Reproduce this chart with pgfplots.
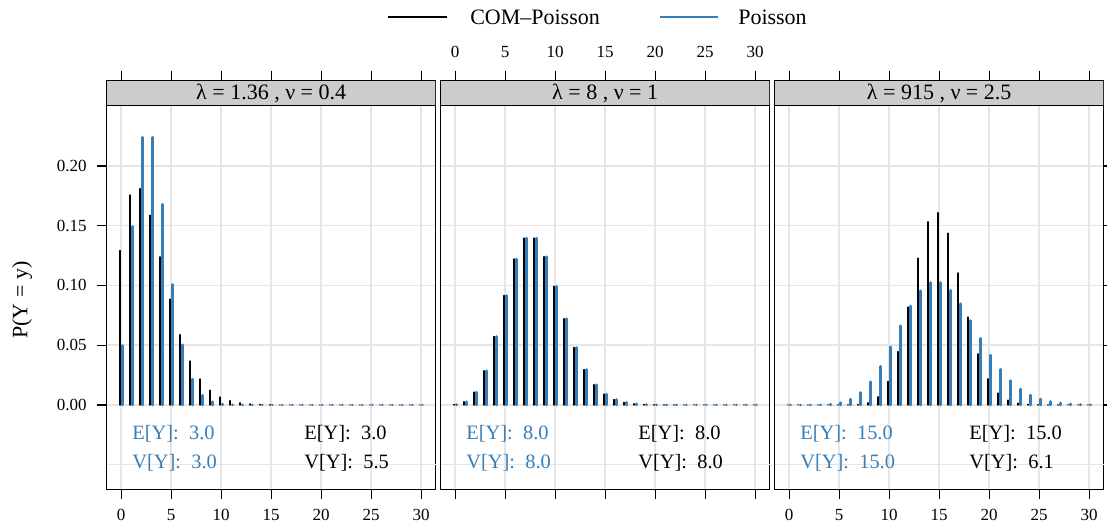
\documentclass[border=0pt]{standalone}
\usepackage{fontspec}
\setmainfont{Liberation Serif}
\usepackage{pgfplots}
\usepackage{pgfplotstable}
\pgfplotsset{compat=1.18}
\definecolor{pblue}{HTML}{377EB8}
\definecolor{gridc}{HTML}{E6E6E6}
\definecolor{stripc}{HTML}{CCCCCC}

\newcommand{\tickfont}{\fontsize{12.75}{14}\selectfont}
\newcommand{\bigfont}{\fontsize{16.5}{19}\selectfont}
\newcommand{\annfont}{\fontsize{15.3}{18}\selectfont}

% COM-Poisson (lambda=1.36, nu=0.4) and Poisson (mean 3)
\pgfplotstableread{
y com pois
0 0.1292 0.0498
1 0.1757 0.1494
2 0.1810 0.2240
3 0.1587 0.2240
4 0.1239 0.1680
5 0.0885 0.1008
6 0.0588 0.0504
7 0.0367 0.0216
8 0.0217 0.0081
9 0.0123 0.0027
10 0.0066 0.0008
11 0.0035 0.0002
12 0.0017 0.0001
13 0.0008 0
14 0.0004 0
15 0.0002 0
16 0 0
17 0 0
18 0 0
19 0 0
20 0 0
21 0 0
22 0 0
23 0 0
24 0 0
25 0 0
26 0 0
27 0 0
28 0 0
29 0 0
30 0 0
}\panelA

% COM-Poisson (lambda=8, nu=1) and Poisson (mean 8)
\pgfplotstableread{
y com pois
0 0.00034 0.00034
1 0.00268 0.00268
2 0.01073 0.01073
3 0.02863 0.02863
4 0.05725 0.05725
5 0.09160 0.09160
6 0.12214 0.12214
7 0.13959 0.13959
8 0.13959 0.13959
9 0.12408 0.12408
10 0.09926 0.09926
11 0.07219 0.07219
12 0.04813 0.04813
13 0.02962 0.02962
14 0.01692 0.01692
15 0.00903 0.00903
16 0.00451 0.00451
17 0.00212 0.00212
18 0.00094 0.00094
19 0.00040 0.00040
20 0.00016 0.00016
21 0.00006 0.00006
22 0.00002 0.00002
23 0 0
24 0 0
25 0 0
26 0 0
27 0 0
28 0 0
29 0 0
30 0 0
}\panelB

% COM-Poisson (lambda=915, nu=2.5) and Poisson (mean 15)
\pgfplotstableread{
y com pois
0 0 0.0000003
1 0 0.0000046
2 0 0.0000344
3 0 0.00017
4 0 0.00065
5 0.000005 0.00194
6 0.00005 0.00484
7 0.00036 0.01037
8 0.00179 0.01944
9 0.00676 0.03241
10 0.0196 0.04861
11 0.0446 0.06629
12 0.0818 0.08286
13 0.1228 0.09561
14 0.1532 0.10244
15 0.1609 0.10244
16 0.1437 0.09603
17 0.1104 0.08474
18 0.0735 0.07061
19 0.0427 0.05575
20 0.0218 0.04181
21 0.0099 0.02987
22 0.00399 0.02036
23 0.00144 0.01328
24 0.00047 0.00830
25 0.00014 0.00498
26 0.00004 0.00287
27 0.00001 0.00160
28 0 0.00086
29 0 0.00044
30 0 0.00022
}\panelC

\pgfplotsset{
  panel/.style={
    scale only axis, width=246.75pt, height=306.4pt,
    xmin=-1.45, xmax=31.45, ymin=-0.0705, ymax=0.2714,
    xtick={0,5,10,15,20,25,30},
    ytick={0,0.05,0.1,0.15,0.2},
    tick align=outside, major tick length=7.5pt,
    xtick pos=both,
    grid=major,
    major grid style={draw=gridc, line width=1.1pt},
    axis line style={line width=0.9pt},
    tick style={line width=0.9pt, black},
    extra y ticks={-0.05}, extra y tick labels={},
    extra y tick style={grid=major, major tick length=0pt},
    ticklabel style={font=\tickfont},
    /pgf/number format/assume math mode=true,
    yticklabel style={xshift=-4pt, /pgf/number format/fixed, /pgf/number format/fixed zerofill, /pgf/number format/precision=2},
    xticklabel style={/pgf/number format/fixed, /pgf/number format/precision=0},
  },
  cpois/.style={ycomb, black, line width=1.1pt, line cap=round, mark=none},
  ppois/.style={ycomb, pblue, line width=2.0pt, line cap=round, mark=none},
}

\begin{document}
\begin{tikzpicture}
\path[use as bounding box] (0,0) rectangle (830.25pt,393pt);

% legend
\draw[black, line width=0.9pt] (291pt,380.25pt) -- (335.25pt,380.25pt);
\node[anchor=west, inner sep=0pt, font=\bigfont] at (352.5pt,380.25pt) {COM--Poisson};
\draw[pblue, line width=0.9pt] (495pt,380.25pt) -- (538.5pt,380.25pt);
\node[anchor=west, inner sep=0pt, font=\bigfont] at (553.5pt,380.25pt) {Poisson};

% y label
\node[rotate=90, font=\bigfont] at (16.5pt,168pt) {P(Y = y)};

% panel 1
\begin{axis}[panel, at={(80pt,26.1pt)}, anchor=south west,
  xticklabel pos=lower, ytick pos=left,
  xticklabel style={yshift=-4pt}]
\addplot[cpois] table[x expr=\thisrow{y}-0.12, y=com] {\panelA};
\addplot[ppois] table[x expr=\thisrow{y}+0.12, y=pois] {\panelA};
\draw[fill=stripc, line width=0.9pt] (axis cs:-1.45,0.2505) rectangle (axis cs:31.45,0.2714);
\node[font=\bigfont] at (axis cs:15,0.2609) {λ = 1.36 , ν = 0.4};
\node[anchor=west, inner sep=0pt, text=pblue, font=\annfont] at (axis cs:1.1,-0.024) {E[Y]:\enspace 3.0};
\node[anchor=west, inner sep=0pt, text=pblue, font=\annfont] at (axis cs:1.1,-0.048) {V[Y]:\enspace 3.0};
\node[anchor=west, inner sep=0pt, font=\annfont] at (axis cs:18.3,-0.024) {E[Y]:\enspace 3.0};
\node[anchor=west, inner sep=0pt, font=\annfont] at (axis cs:18.3,-0.048) {V[Y]:\enspace 5.5};
\end{axis}

% panel 2
\begin{axis}[panel, at={(330.5pt,26.1pt)}, anchor=south west,
  xticklabel pos=upper, ytick pos=left, yticklabels={}, y tick style={draw=none},
  xticklabel style={yshift=6pt}]
\addplot[cpois] table[x expr=\thisrow{y}-0.12, y=com] {\panelB};
\addplot[ppois] table[x expr=\thisrow{y}+0.12, y=pois] {\panelB};
\draw[fill=stripc, line width=0.9pt] (axis cs:-1.45,0.2505) rectangle (axis cs:31.45,0.2714);
\node[font=\bigfont] at (axis cs:15,0.2609) {λ = 8 , ν = 1};
\node[anchor=west, inner sep=0pt, text=pblue, font=\annfont] at (axis cs:1.1,-0.024) {E[Y]:\enspace 8.0};
\node[anchor=west, inner sep=0pt, text=pblue, font=\annfont] at (axis cs:1.1,-0.048) {V[Y]:\enspace 8.0};
\node[anchor=west, inner sep=0pt, font=\annfont] at (axis cs:18.3,-0.024) {E[Y]:\enspace 8.0};
\node[anchor=west, inner sep=0pt, font=\annfont] at (axis cs:18.3,-0.048) {V[Y]:\enspace 8.0};
\end{axis}

% panel 3
\begin{axis}[panel, at={(581pt,26.1pt)}, anchor=south west,
  xticklabel pos=lower, ytick pos=right, yticklabels={},
  xticklabel style={yshift=-4pt}]
\addplot[cpois] table[x expr=\thisrow{y}-0.12, y=com] {\panelC};
\addplot[ppois] table[x expr=\thisrow{y}+0.12, y=pois] {\panelC};
\draw[fill=stripc, line width=0.9pt] (axis cs:-1.45,0.2505) rectangle (axis cs:31.45,0.2714);
\node[font=\bigfont] at (axis cs:15,0.2609) {λ = 915 , ν = 2.5};
\node[anchor=west, inner sep=0pt, text=pblue, font=\annfont] at (axis cs:1.1,-0.024) {E[Y]:\enspace 15.0};
\node[anchor=west, inner sep=0pt, text=pblue, font=\annfont] at (axis cs:1.1,-0.048) {V[Y]:\enspace 15.0};
\node[anchor=west, inner sep=0pt, font=\annfont] at (axis cs:18.0,-0.024) {E[Y]:\enspace 15.0};
\node[anchor=west, inner sep=0pt, font=\annfont] at (axis cs:18.0,-0.048) {V[Y]:\enspace 6.1};
\end{axis}
\end{tikzpicture}
\end{document}
